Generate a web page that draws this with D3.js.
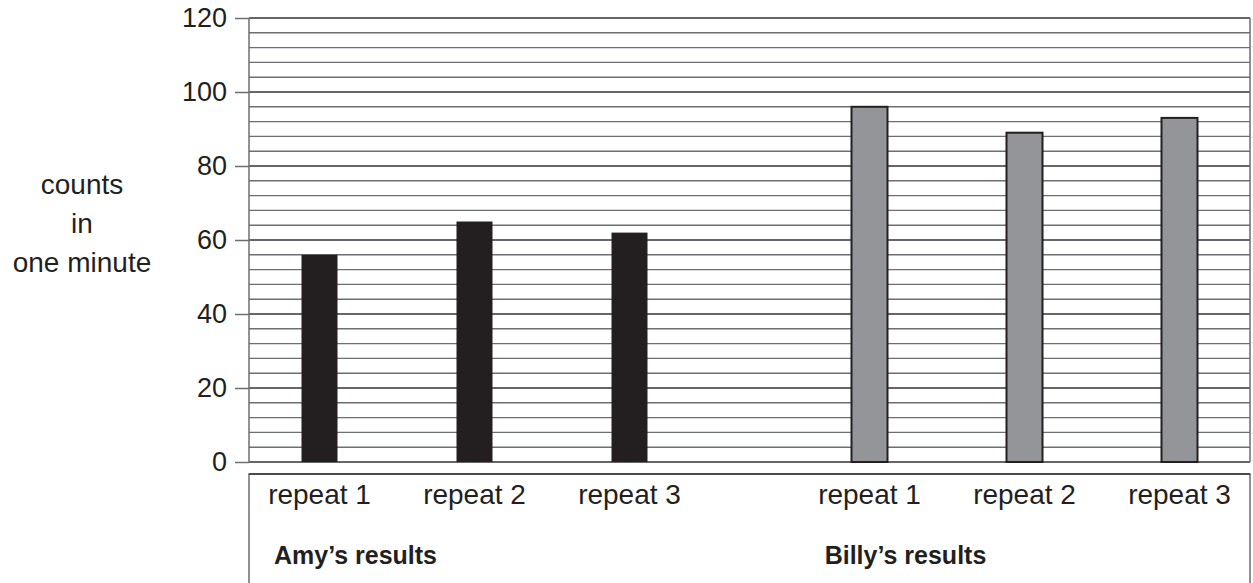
<!DOCTYPE html>
<html>
<head>
<meta charset="utf-8">
<script src="https://cdn.jsdelivr.net/npm/d3@7"></script>
<style>
  html, body { margin: 0; padding: 0; background: #fff; }
  svg { display: block; }
  text { font-family: "Liberation Sans", Arial, Helvetica, sans-serif; fill: #231f20; }
</style>
</head>
<body>
<svg id="chart" width="1253" height="583"></svg>
<script>
// ---- data ----
const groups = ["Amy’s results", "Billy’s results"];
const repeats = ["repeat 1", "repeat 2", "repeat 3"];
const amyValues = [56, 65, 62];
const billyValues = [96, 89, 93];
const yTicks = [0, 20, 40, 60, 80, 100, 120];
const yTitleLines = ["counts", "in", "one minute"];

const series = [amyValues, billyValues];
const barFills = ["#231f20", "#939598"];

// ---- layout ----
const W = 1253, H = 583;
const mLeft = 249, mRight = 1250, mTop = 18, mBottom = 462;
const svg = d3.select("#chart");

const y = d3.scaleLinear().domain([0, 120]).range([mBottom, mTop]);
const outer = d3.scalePoint().domain(groups).range([mLeft, mRight]).padding(0.41);
const inner = d3.scalePoint().domain(repeats).range([-155, 155]);
const barW = 36;

// gridlines every 4 units
const grid = d3.range(0, 121, 4);
svg.append("g").selectAll("line").data(grid).join("line")
  .attr("x1", mLeft).attr("x2", mRight)
  .attr("y1", d => y(d)).attr("y2", d => y(d))
  .attr("stroke", (d, i) => (i % 5 === 0 ? "#333" : "#6d6e71"))
  .attr("stroke-width", 1.4);

// right border
svg.append("line").attr("x1", mRight).attr("x2", mRight)
  .attr("y1", y(120)).attr("y2", y(0))
  .attr("stroke", "#6d6e71").attr("stroke-width", 1.5);

// left axis
const axis = d3.axisLeft(y).tickValues(yTicks).tickSize(14).tickPadding(8);
const ga = svg.append("g").attr("transform", `translate(${mLeft},0)`).call(axis);
ga.select(".domain").attr("stroke", "#6d6e71").attr("stroke-width", 1.5)
  .attr("d", `M0,${y(120)}V${y(0)}`);
ga.selectAll(".tick line").attr("stroke", "#6d6e71").attr("stroke-width", 1.5);
ga.selectAll(".tick text").attr("font-size", 27).attr("fill", "#231f20")
  .attr("font-family", "Liberation Sans, Arial, sans-serif");

// bars
groups.forEach((g, gi) => {
  svg.append("g").selectAll("rect").data(series[gi]).join("rect")
    .attr("x", (d, i) => outer(g) + inner(repeats[i]) - barW / 2)
    .attr("width", barW)
    .attr("y", d => y(d))
    .attr("height", d => y(0) - y(d))
    .attr("fill", barFills[gi])
    .attr("stroke", "#231f20")
    .attr("stroke-width", gi === 1 ? 2 : 0);
});

// category box
const boxTop = 474;
svg.append("path")
  .attr("d", `M${mLeft},${H + 2}V${boxTop}H${mRight}V${H + 2}`)
  .attr("fill", "none").attr("stroke", "#6d6e71").attr("stroke-width", 1.5);
svg.append("line").attr("x1", mLeft).attr("x2", mRight)
  .attr("y1", boxTop).attr("y2", boxTop)
  .attr("stroke", "#333").attr("stroke-width", 1.5);

// repeat labels
groups.forEach(g => {
  svg.append("g").selectAll("text").data(repeats).join("text")
    .attr("x", r => outer(g) + inner(r))
    .attr("y", 504)
    .attr("text-anchor", "middle")
    .attr("font-size", 28)
    .text(r => r);
});

// group labels
svg.append("g").selectAll("text").data(groups).join("text")
  .attr("x", g => outer(g) - 119)
  .attr("y", 564)
  .attr("text-anchor", "middle")
  .attr("font-size", 25)
  .attr("font-weight", "bold")
  .text(g => g);

// y title
svg.append("g").selectAll("text").data(yTitleLines).join("text")
  .attr("x", 82)
  .attr("y", (d, i) => 194 + i * 39)
  .attr("text-anchor", "middle")
  .attr("font-size", 28)
  .text(d => d);
</script>
</body>
</html>
